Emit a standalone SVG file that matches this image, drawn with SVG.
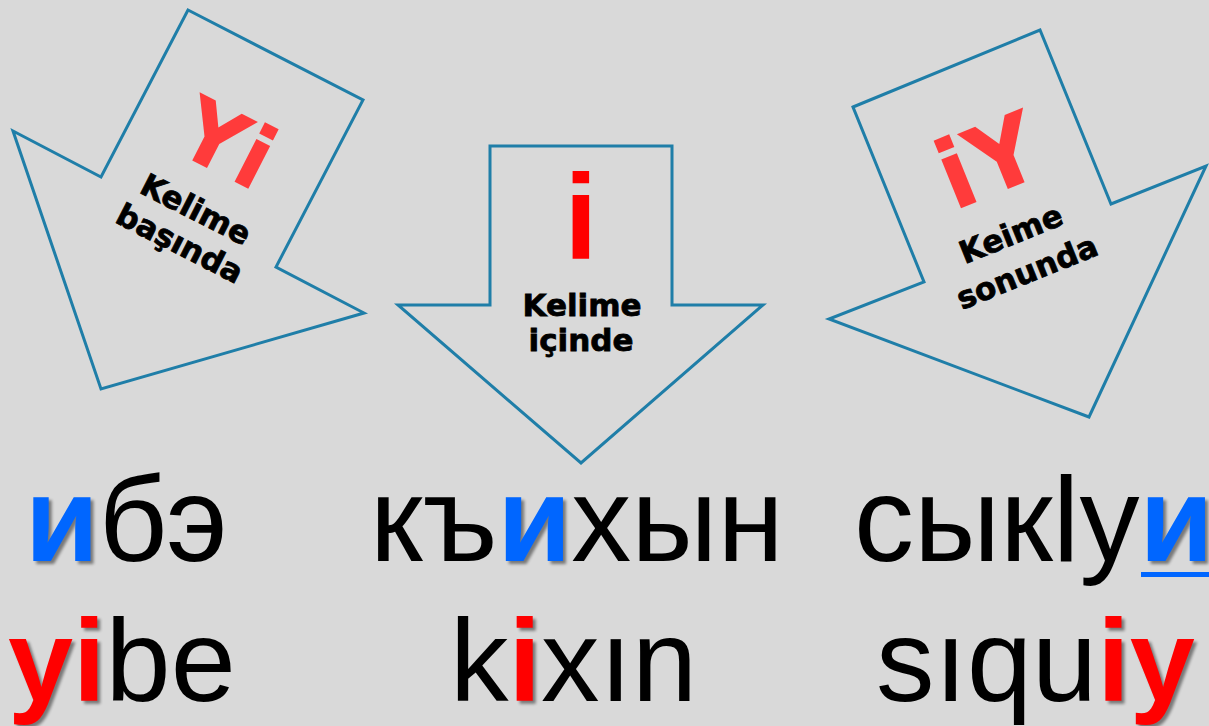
<svg xmlns="http://www.w3.org/2000/svg" width="1209" height="726" viewBox="0 0 1209 726">
<defs>
<style>
.arrow{fill:#d9d9d9;stroke:#1f7ea8;stroke-width:3;stroke-linejoin:miter}
.lbl{font-family:"DejaVu Sans","Liberation Sans",sans-serif;font-weight:bold;font-size:31px;fill:#000;stroke:#000;stroke-width:0.8;text-anchor:middle}
.big{font-family:"DejaVu Sans","Liberation Sans",sans-serif;font-weight:bold;fill:#ff3b3b;text-anchor:middle}
.word{font-family:"Liberation Sans",Arial,sans-serif;font-size:120px;fill:#000;filter:url(#sh)}
.w2{font-size:117px}
.hb{fill:#0066ff;font-weight:bold}
.hr{fill:#ff0000;font-weight:bold}
</style>
<filter id="sh" x="-5%" y="-15%" width="115%" height="140%" color-interpolation-filters="sRGB">
<feColorMatrix in="SourceGraphic" type="matrix" values="0 0 0 0 0  0 0 0 0 0  0 0 0 0 0  1 0 1 0 0" result="m"/>
<feComposite in="m" in2="SourceAlpha" operator="in" result="c"/>
<feOffset in="c" dx="3" dy="3" result="o"/>
<feGaussianBlur in="o" stdDeviation="1.6" result="b"/>
<feComponentTransfer in="b" result="s"><feFuncA type="linear" slope="0.45"/></feComponentTransfer>
<feMerge><feMergeNode in="s"/><feMergeNode in="SourceGraphic"/></feMerge>
</filter>
</defs>
<rect x="0" y="0" width="1209" height="726" fill="#d9d9d9"/>

<g id="arrow-left">
<polygon class="arrow" points="188,10 363,100 276,267 364,313 101,389 13,131 101,177"/>
<text class="big" font-size="88" transform="translate(213,171) rotate(27)">Yi</text>
<text class="lbl" transform="translate(191,219) rotate(27)">Kelime</text>
<text class="lbl" transform="translate(175,253) rotate(27)">başında</text>
</g>

<g id="arrow-middle">
<polygon class="arrow" points="490,146 672,146 672,305 763,305 581,463 398,305 490,305"/>
<text x="581" y="259" font-family="Liberation Sans, Arial, sans-serif" font-weight="bold" font-size="120" fill="#ff0000" text-anchor="middle">i</text>
<text class="lbl" x="582" y="316" font-size="32">Kelime</text>
<text class="lbl" x="581" y="351" font-size="32">içinde</text>
</g>

<g id="arrow-right">
<polygon class="arrow" points="853,107 1040,30 1111,204 1206,166 1089,417 829,319 924,282"/>
<text class="big" font-size="96" transform="translate(1001,192) rotate(-22)">iY</text>
<text class="lbl" transform="translate(1015,244) rotate(-22)">Keime</text>
<text class="lbl" transform="translate(1031,282) rotate(-22)">sonunda</text>
</g>

<g id="connectors"></g>

<g id="word-ibe">
<text class="word" x="25" y="561"><tspan class="hb">и</tspan>бэ</text>
<text class="word w2" x="8" y="701"><tspan class="hr">yi</tspan>be</text>
</g>

<g id="word-kixin">
<text class="word" x="370" y="561">къ<tspan class="hb">и</tspan>хын</text>
<text class="word w2" x="450" y="701">k<tspan class="hr">i</tspan>xın</text>
</g>

<g id="word-siquiy">
<text class="word" x="854" y="561">сыкlу<tspan class="hb">и</tspan></text>
<rect x="1141" y="572" width="68" height="5" fill="#0066ff"/>
<text class="word w2" x="876" y="701">sıqu<tspan class="hr">iy</tspan></text>
</g>
</svg>
